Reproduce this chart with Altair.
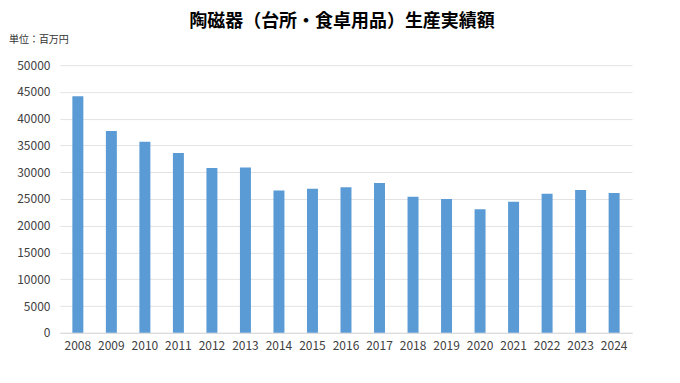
import altair as alt
import pandas as pd

years = [str(y) for y in range(2008, 2025)]
values = [44200, 37700, 35700, 33600, 30800, 30900, 26600, 26900, 27200,
          28000, 25400, 25000, 23100, 24500, 26000, 26700, 26100]
y_ticks = [0, 5000, 10000, 15000, 20000, 25000, 30000, 35000, 40000, 45000, 50000]
title_text = "陶磁器（台所・食卓用品）生産実績額"
unit_text = "単位：百万円"

df = pd.DataFrame({"year": years, "value": values})
FONT = "Noto Sans CJK JP"
W, H = 573, 268

bars = alt.Chart(df).mark_bar(color="#5B9BD5", size=11).encode(
    x=alt.X("year:N", sort=years, title=None,
            scale=alt.Scale(paddingInner=0.67, paddingOuter=0.37),
            axis=alt.Axis(labelAngle=0, labelFontSize=12, labelColor="#404040",
                          labelFont=FONT, ticks=False, domainColor="#d9d9d9",
                          labelPadding=8)),
    y=alt.Y("value:Q", title=None,
            scale=alt.Scale(domain=[0, 50000], nice=False),
            axis=alt.Axis(values=y_ticks, format="d", labelFontSize=12,
                          labelColor="#404040", labelFont=FONT, ticks=False,
                          domain=False, gridColor="#e3e3e3", labelPadding=10)),
)

unit = alt.Chart(pd.DataFrame({"t": [unit_text]})).mark_text(
    align="left", baseline="middle", fontSize=10, font=FONT, color="#333333"
).encode(text="t:N", x=alt.value(-51), y=alt.value(-25))

title = alt.Chart(pd.DataFrame({"t": [title_text]})).mark_text(
    align="center", baseline="middle", fontSize=18, fontWeight="bold",
    font=FONT, color="#000000"
).encode(text="t:N", x=alt.value(W / 2 - 4), y=alt.value(-43))

chart = alt.layer(bars, unit, title).properties(
    width=W, height=H,
    autosize=alt.AutoSizeParams(type="none"),
    padding={"left": 52, "top": 57, "right": 40, "bottom": 40},
).configure_view(stroke=None)

chart.save("out.html", embed_options={"renderer": "svg", "actions": False})
